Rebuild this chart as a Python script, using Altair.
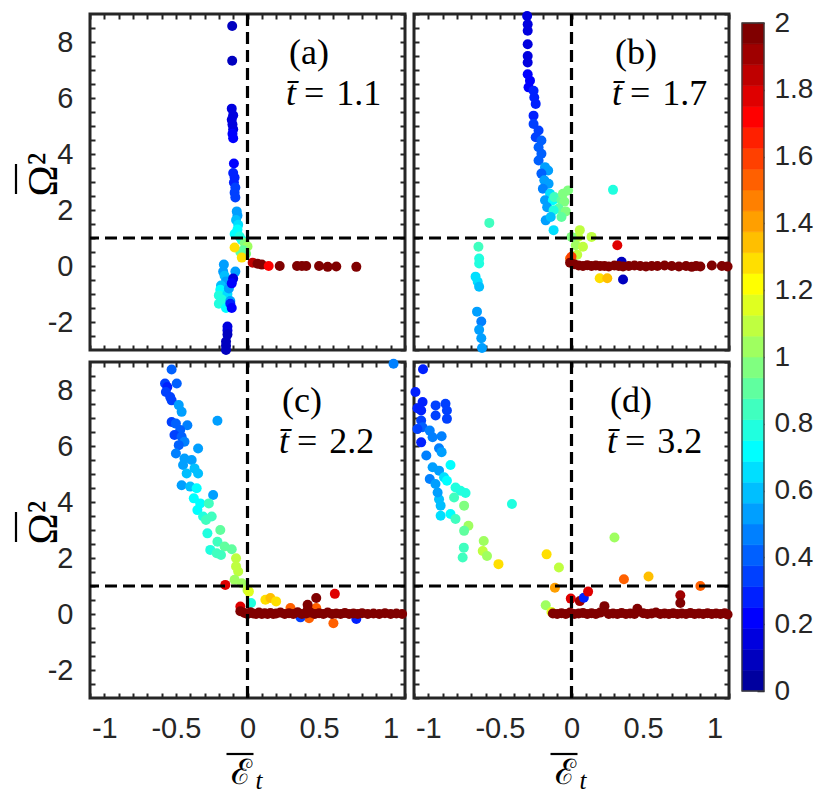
import math
import altair as alt
import pandas as pd

# ---------------- data ----------------
A_X = [-0.107, -0.107, -0.11, -0.10, -0.11, -0.105, -0.10, -0.105, -0.10, -0.095, -0.10, -0.09, -0.095, -0.085, -0.09, -0.085,
       -0.075, -0.07, -0.08, -0.065, -0.07, -0.09, -0.055, -0.04,
       -0.02, 0.0, -0.03, -0.01, -0.05,
       -0.09, -0.04,
       -0.165, -0.17, -0.16, -0.15, -0.185, -0.19, -0.17, -0.2, -0.14, -0.18, -0.16, -0.2, -0.15, -0.12, -0.13, -0.085,
       -0.1, -0.11, -0.12, -0.11,
       -0.14, -0.14, -0.14, -0.15, -0.15, -0.15,
       0.036, 0.07, 0.10, 0.148, 0.225, 0.346, 0.38, 0.41, 0.50, 0.56, 0.62, 0.76]
A_Y = [8.57, 7.33, 5.62, 5.38, 5.22, 5.05, 4.88, 4.72, 4.56, 3.66, 3.32, 3.16, 2.98, 2.8, 2.62, 2.45,
       1.95, 1.8, 1.64, 1.47, 1.3, 1.14, 1.05, 0.93,
       0.82, 0.7, 0.56, 0.44, 0.5,
       0.66, 0.3,
       0.05, -0.2, -0.35, -0.55, -0.7, -0.85, -0.95, -1.05, -1.0, -1.2, -1.3, -1.35, -1.5, -1.25, -0.8, -0.2,
       -0.45, -0.62, -1.35, -1.5,
       -2.16, -2.3, -2.45, -2.7, -2.85, -3.0,
       0.12, 0.08, 0.05, 0.0, 0.0, 0.0, 0.0, 0.0, 0.0, -0.03, -0.02, -0.03]
A_C = [0.12, 0.12, 0.15, 0.15, 0.16, 0.17, 0.18, 0.19, 0.2, 0.24, 0.26, 0.28, 0.3, 0.32, 0.34, 0.36,
       0.5, 0.55, 0.6, 0.66, 0.7, 0.74, 0.8, 0.78,
       0.95, 1.0, 0.92, 0.95, 0.9,
       1.27, 1.3,
       0.55, 0.56, 0.6, 0.52, 0.6, 0.7, 0.74, 0.76, 0.66, 0.78, 0.76, 0.8, 0.72, 0.56, 0.5, 0.5,
       0.18, 0.2, 0.25, 0.24,
       0.15, 0.13, 0.12, 0.12, 0.12, 0.12,
       1.85, 1.95, 1.95, 1.7, 2.0, 2.0, 2.0, 2.0, 2.0, 2.0, 2.0, 2.0]

B_X = [-0.31, -0.306, -0.306, -0.306, -0.306, -0.306, -0.306, -0.29, -0.30, -0.265, -0.26, -0.25, -0.265, -0.265,
       -0.23, -0.25, -0.21, -0.23, -0.21, -0.23, -0.185, -0.163, -0.21, -0.19, -0.16, -0.20, -0.15, -0.185,
       -0.13, -0.12, -0.07, -0.05, -0.06, -0.09, -0.04, -0.07, -0.024, -0.17, -0.125, -0.18, -0.145, -0.125,
       0.29, -0.574,
       -0.65, -0.645, -0.645, -0.67, -0.655, -0.645, -0.66, -0.63, -0.645, -0.63, -0.625,
       0.058, 0.046, 0.14, 0.03, 0.08, 0.04, 0.0, 0.32, -0.01, 0.0, 0.35, 0.36, 0.197, 0.25,
       -0.01, 0.02, 0.05, 0.08, 0.11, 0.14, 0.17, 0.2, 0.23, 0.26, 0.3, 0.33, 0.36, 0.4, 0.44, 0.48, 0.52,
       0.56, 0.6, 0.65, 0.7, 0.75, 0.8, 0.84, 0.87, 0.9, 0.98, 1.05, 1.09]
B_Y = [8.93, 8.63, 8.4, 7.92, 7.5, 7.27, 6.85, 6.62, 6.38, 6.26, 6.02, 5.79, 5.37, 5.07,
       4.84, 4.6, 4.48, 4.24, 4.01, 3.77, 3.53, 3.41, 3.3, 3.06, 2.94, 2.76, 2.58, 2.35,
       2.35, 2.46, 2.35, 2.3, 2.58, 2.05, 1.95, 1.75, 2.7, 2.1, 1.99, 1.63, 1.75, 1.28,
       2.72, 1.54,
       0.69, 0.27, 0.09, -0.38, -0.56, -0.74, -1.63, -1.98, -2.28, -2.58, -2.93,
       1.28, 1.04, 1.04, 0.74, 0.69, 0.4, 1.04, 0.74, 0.27, 0.33, 0.15, -0.48, -0.44, -0.44,
       0.12, 0.06, 0.02, 0.0, 0.03, 0.0, 0.02, 0.0, 0.0, -0.02, 0.02, 0.0, -0.02, 0.0, 0.02, 0.0, -0.02,
       0.0, 0.0, 0.02, 0.0, -0.02, 0.0, -0.03, 0.0, -0.02, 0.02, 0.0, -0.02]
B_C = [0.14, 0.14, 0.15, 0.15, 0.16, 0.17, 0.2, 0.22, 0.22, 0.25, 0.26, 0.28, 0.3, 0.32,
       0.35, 0.36, 0.38, 0.4, 0.4, 0.42, 0.5, 0.55, 0.42, 0.5, 0.56, 0.46, 0.65, 0.5,
       0.72, 0.85, 0.92, 0.96, 0.95, 0.9, 0.95, 0.92, 0.95, 0.55, 0.76, 0.56, 0.6, 0.68,
       0.75, 0.85,
       0.82, 0.8, 0.76, 0.66, 0.66, 0.62, 0.5, 0.46, 0.5, 0.5, 0.5,
       1.1, 1.1, 1.12, 1.05, 1.1, 1.1, 0.95, 1.75, 1.55, 1.62, 0.1, 0.1, 1.3, 1.36,
       2.0, 2.0, 2.0, 2.0, 2.0, 2.0, 2.0, 2.0, 2.0, 2.0, 2.0, 2.0, 2.0, 2.0, 2.0, 2.0, 2.0,
       2.0, 2.0, 2.0, 2.0, 2.0, 2.0, 2.0, 2.0, 2.0, 2.0, 2.0, 2.0]

C_X = [-0.53, -0.576, -0.56, -0.494, -0.57, -0.54, -0.53, -0.48, -0.46, -0.53, -0.50, -0.42, -0.47, -0.51,
       -0.46, -0.44, -0.48, -0.345, -0.50, -0.44, -0.39, -0.45, -0.37, -0.425, -0.345, -0.46, -0.40,
       -0.355, -0.24, -0.375, -0.33, -0.27, -0.35, -0.31, -0.29, -0.25, -0.28, -0.19, -0.21, -0.16,
       -0.26, -0.215, -0.11, -0.185, -0.08, -0.08, -0.065, -0.09, -0.04, 0.0, 0.01,
       -0.21, 1.02, -0.155, 0.025, 0.125, 0.16, 0.2, -0.05, 0.3, 0.48, 0.6, 0.43, 0.37, 0.61, 0.48,
       0.42, 0.42, 0.76,
       -0.05, -0.02, 0.0, 0.02, 0.04, 0.06, 0.08, 0.1, 0.12, 0.14, 0.16, 0.18, 0.2, 0.23, 0.26, 0.29,
       0.32, 0.35, 0.38, 0.41, 0.44, 0.47, 0.5, 0.53, 0.56, 0.59, 0.62, 0.65, 0.68, 0.71, 0.74, 0.77,
       0.8, 0.84, 0.88, 0.92, 0.96, 1.0, 1.04, 1.08]
C_Y = [8.73, 8.23, 8.11, 8.23, 7.93, 7.75, 7.63, 7.46, 7.22, 6.86, 6.8, 6.74, 6.57, 6.39,
       6.33, 6.15, 6.03, 5.91, 5.73, 5.55, 5.5, 5.32, 5.2, 5.02, 5.02, 4.6, 4.55,
       4.49, 4.25, 4.13, 3.95, 3.95, 3.71, 3.48, 3.36, 3.48, 2.88, 3.0, 2.58, 2.41,
       2.29, 2.17, 2.31, 2.11, 1.99, 1.7, 1.52, 1.22, 1.1, 0.86, 0.8,
       6.9, 8.94, 1.04, 0.39, 0.51, 0.57, 0.45, 0.27, 0.21, 0.21, -0.33, -0.15, -0.12, 0.72, 0.57,
       0.33, 0.15, -0.18,
       0.1, 0.04, 0.0, 0.06, 0.02, 0.0, 0.05, 0.0, 0.03, 0.0, 0.04, 0.0, 0.02, 0.05, 0.0, 0.03,
       0.0, 0.06, 0.0, 0.02, 0.05, 0.0, 0.03, 0.0, 0.05, 0.0, 0.02, 0.0, 0.04, 0.0, 0.02, 0.0,
       0.03, 0.0, 0.02, 0.0, 0.03, 0.0, 0.02, 0.0]
C_C = [0.42, 0.35, 0.3, 0.42, 0.32, 0.35, 0.36, 0.5, 0.5, 0.36, 0.38, 0.46, 0.4, 0.36,
       0.4, 0.44, 0.42, 0.52, 0.46, 0.5, 0.56, 0.55, 0.6, 0.6, 0.62, 0.5, 0.62,
       0.72, 0.56, 0.72, 0.74, 0.86, 0.74, 0.76, 0.82, 0.86, 0.78, 0.9, 0.86, 0.92,
       0.76, 0.86, 0.92, 0.86, 1.08, 1.1, 1.1, 1.06, 1.06, 1.12, 1.15,
       0.5, 0.45, 1.8, 0.76, 1.3, 1.35, 1.3, 1.8, 1.5, 1.55, 1.5, 1.5, 0.35, 1.8, 2.0,
       2.0, 2.0, 0.25,
       2.0, 2.0, 2.0, 2.0, 2.0, 2.0, 2.0, 2.0, 2.0, 2.0, 2.0, 2.0, 2.0, 2.0, 2.0, 2.0,
       2.0, 2.0, 2.0, 2.0, 2.0, 2.0, 2.0, 2.0, 2.0, 2.0, 2.0, 2.0, 2.0, 2.0, 2.0, 2.0,
       2.0, 2.0, 2.0, 2.0, 2.0, 2.0, 2.0, 2.0]

D_X = [-1.037, -1.09, -1.04, -1.076, -1.05, -0.949, -0.949, -0.88, -0.87, -0.87, -1.05, -1.04, -1.076,
       -0.99, -0.97, -1.05, -0.907, -0.925, -0.907, -1.014, -0.97, -0.845, -0.925, -0.99, -0.89, -0.95,
       -0.87, -0.81, -0.775, -0.74, -0.82, -0.75, -0.925, -0.935, -0.914, -0.914, -0.845, -0.81, -0.72,
       -0.75, -0.613, -0.62, -0.59, -0.752, -0.76, -0.51, -0.416, -0.174, -0.088, -0.116,
       0.3, 0.366, 0.538, 0.9, -0.005, 0.058, 0.086, 0.116, -0.18, -0.14, 0.76, 0.76, 0.23, 0.46,
       -0.13, -0.1, -0.07, -0.04, -0.01, 0.02, 0.05, 0.08, 0.11, 0.14, 0.17, 0.2, 0.26, 0.29, 0.32,
       0.35, 0.38, 0.41, 0.44, 0.5, 0.53, 0.56, 0.59, 0.62, 0.65, 0.68, 0.71, 0.74, 0.77, 0.8, 0.83,
       0.86, 0.89, 0.92, 0.95, 0.98, 1.01, 1.04, 1.07, 1.09]
D_Y = [8.74, 7.93, 7.57, 7.35, 7.27, 7.45, 7.09, 7.51, 7.27, 6.97, 6.91, 6.67, 6.61,
       6.55, 6.31, 6.13, 6.35, 5.92, 5.78, 5.66, 5.24, 5.32, 5.12, 4.82, 4.88, 4.64,
       4.76, 4.52, 4.4, 4.32, 4.16, 3.87, 4.1, 4.34, 3.87, 3.51, 3.57, 3.39, 3.15,
       2.97, 2.61, 2.25, 2.07, 2.37, 2.02, 1.78, 3.93, 2.13, 1.66, 0.94,
       2.73, 1.24, 1.34, 1.0, 0.55, 0.46, 0.58, 0.8, 0.31, 0.07, 0.67, 0.39, 0.28, 0.19,
       0.02, 0.0, 0.03, 0.0, 0.05, 0.0, 0.02, 0.04, 0.0, 0.03, 0.0, 0.05, 0.0, 0.02, 0.0,
       0.04, 0.0, 0.02, 0.0, 0.03, 0.0, 0.02, 0.05, 0.0, 0.02, 0.0, 0.03, 0.0, 0.02, 0.0, 0.04,
       0.0, 0.02, 0.0, 0.03, 0.0, 0.02, 0.0, 0.03, -0.02]
D_C = [0.3, 0.3, 0.26, 0.3, 0.3, 0.36, 0.36, 0.32, 0.36, 0.36, 0.35, 0.4, 0.35,
       0.45, 0.45, 0.3, 0.46, 0.46, 0.55, 0.45, 0.5, 0.7, 0.5, 0.45, 0.66, 0.56,
       0.7, 0.8, 0.8, 0.76, 0.86, 0.96, 0.6, 0.56, 0.6, 0.66, 0.7, 0.86, 1.0,
       0.9, 1.05, 1.1, 1.0, 0.86, 0.84, 1.25, 0.8, 1.25, 1.12, 1.42,
       1.05, 1.55, 1.35, 1.5, 1.8, 1.9, 0.3, 1.75, 1.0, 1.15, 1.9, 2.0, 2.0, 2.0,
       2.0, 2.0, 2.0, 2.0, 2.0, 2.0, 2.0, 2.0, 2.0, 2.0, 2.0, 2.0, 2.0, 2.0, 2.0,
       2.0, 2.0, 2.0, 2.0, 2.0, 2.0, 2.0, 2.0, 2.0, 2.0, 2.0, 2.0, 2.0, 2.0, 2.0, 2.0,
       2.0, 2.0, 2.0, 2.0, 2.0, 2.0, 2.0, 2.0, 2.0]

PANEL_TAGS = ["(a)", "(b)", "(c)", "(d)"]
PANEL_TIMES = ["1.1", "1.7", "2.2", "3.2"]

X_TICKS = [round(-1.1 + 0.1 * i, 1) for i in range(23)]
Y_TICKS = [round(-3 + 0.5 * i, 1) for i in range(25)]
Y_TICKS_INNER = Y_TICKS[1:-1]
CB_TICKS = [round(0.2 * i, 1) for i in range(11)]


# ---------------- colormap: MATLAB jet(32) ----------------
def jet(m):
    n = math.ceil(m / 4)
    u = [i / n for i in range(1, n + 1)] + [1.0] * (n - 1) + [i / n for i in range(n, 0, -1)]
    g0 = math.ceil(n / 2) - (1 if m % 4 == 1 else 0)
    cols = [[0.0, 0.0, 0.0] for _ in range(m)]
    for k, val in enumerate(u):
        g = g0 + k + 1
        r = g + n
        b = g - n
        if 1 <= r <= m:
            cols[r - 1][0] = val
        if 1 <= g <= m:
            cols[g - 1][1] = val
        if 1 <= b <= m:
            cols[b - 1][2] = val
    return ["#%02x%02x%02x" % tuple(int(round(v * 255)) for v in c) for c in cols]


NLEV = 32
JET = jet(NLEV)
CSCALE = alt.Scale(type="quantize", domain=[0, 2], range=JET)

FRAME = "#262626"
W, H = 315, 336
SANS = "Liberation Sans"
SERIF = "Liberation Serif"

XEXPR = "abs(datum.value * 2 - round(datum.value * 2)) < 0.001 && abs(datum.value) < 1.05 ? toString(datum.value) : ''"
YEXPR = "(datum.value % 2 == 0) ? toString(datum.value) : ''"
X_TITLE = "\u2130"         # script E (overbar drawn as a rule, subscript t as text)
X_SUB = "t"
Y_TITLE = "\u03A9\u00B2"   # Omega squared (overbar drawn as a rule)

XSC = alt.Scale(domain=[-1.1, 1.1], nice=False, zero=False)
YSC = alt.Scale(domain=[-3, 9], nice=False, zero=False)


def tick_axis(orient, values, show_labels, expr, title, **kw):
    args = dict(orient=orient, values=values, offset=-5, tickSize=5, tickWidth=2,
                tickColor=FRAME, domain=False, grid=False, labels=show_labels,
                labelOverlap=False, title=title, minExtent=0)
    if show_labels:
        args.update(labelExpr=expr, labelFont=SANS, labelFontSize=29, labelColor=FRAME)
    args.update(kw)
    return alt.Axis(**args)


def panel(xs, ys, cs, idx, show_x, show_y, tag_dx):
    df = pd.DataFrame({"x": xs, "y": ys, "c": cs})
    if show_x:
        xaxis = tick_axis("bottom", X_TICKS, True, XEXPR, X_TITLE, labelPadding=16, labelFlush=False,
                          titleFont="DejaVu Serif", titleFontSize=35, titleFontWeight="normal",
                          titleColor="black", titlePadding=12, titleX=W / 2 - 7)
    else:
        xaxis = tick_axis("bottom", X_TICKS, False, XEXPR, None)
    if show_y:
        yaxis = tick_axis("left", Y_TICKS_INNER, True, YEXPR, Y_TITLE, labelPadding=17,
                          titleFont=SERIF, titleFontSize=42, titleFontWeight="normal",
                          titleColor="black", titlePadding=-18, titleY=160)
    else:
        yaxis = tick_axis("left", Y_TICKS, False, YEXPR, None)

    pts = alt.Chart(df).mark_circle(size=100, opacity=1).encode(
        x=alt.X("x:Q", scale=XSC, axis=xaxis),
        y=alt.Y("y:Q", scale=YSC, axis=yaxis),
        color=alt.Color("c:Q", scale=CSCALE, legend=None),
    )
    vline = alt.Chart(pd.DataFrame({"x": [0.0]})).mark_rule(
        color="black", strokeWidth=3.2, strokeDash=[12, 6]
    ).encode(x=alt.X("x:Q", scale=XSC, axis=tick_axis("top", X_TICKS, False, XEXPR, None)))
    hline = alt.Chart(pd.DataFrame({"y": [1.0]})).mark_rule(
        color="black", strokeWidth=3.2, strokeDash=[12, 6]
    ).encode(y=alt.Y("y:Q", scale=YSC, axis=tick_axis("right", Y_TICKS, False, YEXPR, None)))

    tag = alt.Chart(pd.DataFrame({"t": [PANEL_TAGS[idx]]})).mark_text(
        font=SERIF, fontSize=36, align="left", baseline="alphabetic", color="black"
    ).encode(text="t:N", x=alt.value(tag_dx), y=alt.value(50))
    tvar = alt.Chart(pd.DataFrame({"t": ["t\u0304"]})).mark_text(
        font=SERIF, fontSize=36, fontStyle="italic", align="left", baseline="alphabetic", color="black"
    ).encode(text="t:N", x=alt.value(tag_dx - 3), y=alt.value(91))
    tval = alt.Chart(pd.DataFrame({"t": ["=\u2004" + PANEL_TIMES[idx]]})).mark_text(
        font=SERIF, fontSize=36, align="left", baseline="alphabetic", color="black"
    ).encode(text="t:N", x=alt.value(tag_dx + 15), y=alt.value(91))

    layers = [pts, vline, hline, tag, tvar, tval]
    if show_y:   # overbar of the y title
        layers.append(alt.Chart(pd.DataFrame({"k": [0]})).mark_rule(color="black", strokeWidth=2.2).encode(
            x=alt.value(-74), y=alt.value(150), y2=alt.value(180)))
    if show_x:   # overbar and subscript of the x title
        layers.append(alt.Chart(pd.DataFrame({"k": [0]})).mark_rule(color="black", strokeWidth=2.2).encode(
            x=alt.value(W / 2 - 21), x2=alt.value(W / 2 + 6), y=alt.value(H + 56)))
        layers.append(alt.Chart(pd.DataFrame({"t": [X_SUB]})).mark_text(
            font=SERIF, fontSize=25, fontStyle="italic", align="left", baseline="alphabetic", color="black"
        ).encode(text="t:N", x=alt.value(W / 2 + 8), y=alt.value(H + 91)))

    return alt.layer(*layers).resolve_axis(
        x="independent", y="independent"
    ).properties(width=W, height=H)


pa = panel(A_X, A_Y, A_C, 0, False, True, 199)
pb = panel(B_X, B_Y, B_C, 1, False, False, 201)
pc = panel(C_X, C_Y, C_C, 2, True, True, 192)
pd_ = panel(D_X, D_Y, D_C, 3, True, False, 196)

grid = alt.concat(pa, pb, pc, pd_, columns=2, spacing={"row": 12, "column": 9}, bounds="flush")

# ---------------- colour bar ----------------
CB_H = 668          # pixel length of the bar itself
CB_EXTRA = 9        # free pixels above the bar
CB_TOP = 2 * (CB_H + CB_EXTRA) / CB_H
CB_LO = [2 * i / NLEV for i in range(NLEV)]
CB_HI = [2 * (i + 1) / NLEV for i in range(NLEV)]
CB_MID = [(lo + hi) / 2 for lo, hi in zip(CB_LO, CB_HI)]
cb_df = pd.DataFrame({"lo": CB_LO, "hi": CB_HI, "mid": CB_MID})
CB_SC = alt.Scale(domain=[0, CB_TOP], nice=False, zero=False)

cb_bins = alt.Chart(cb_df).mark_rect(strokeWidth=0.6).encode(
    y=alt.Y("lo:Q", scale=CB_SC,
            axis=alt.Axis(orient="right", values=CB_TICKS, labelExpr="toString(datum.value)",
                          offset=-7, tickSize=7, tickWidth=1.5, tickColor=FRAME, domain=False,
                          grid=False, labelPadding=10, labelFont=SANS, labelFontSize=28,
                          labelColor=FRAME, labelOverlap=False, title=None, minExtent=0)),
    y2="hi:Q",
    x=alt.value(0),
    x2=alt.value(22),
    color=alt.Color("mid:Q", scale=CSCALE, legend=None),
    stroke=alt.Stroke("mid:Q", scale=CSCALE, legend=None),
)
cb_frame = alt.Chart(pd.DataFrame({"lo": [0.0], "hi": [2.0]})).mark_rect(
    filled=False, color="#3a3a3a", strokeWidth=1.3
).encode(y=alt.Y("lo:Q", scale=CB_SC), y2="hi:Q", x=alt.value(0), x2=alt.value(22))

colorbar = alt.layer(cb_bins, cb_frame).properties(
    width=22, height=CB_H + CB_EXTRA,
    view=alt.ViewBackground(stroke="transparent", strokeWidth=0)
)

chart = alt.hconcat(grid, colorbar, spacing=6).properties(
    padding={"left": 5, "top": 1, "right": 5, "bottom": 0}, background="white"
).configure_view(stroke=FRAME, strokeWidth=3)

chart.save("out.html", embed_options={"renderer": "svg", "actions": False})
